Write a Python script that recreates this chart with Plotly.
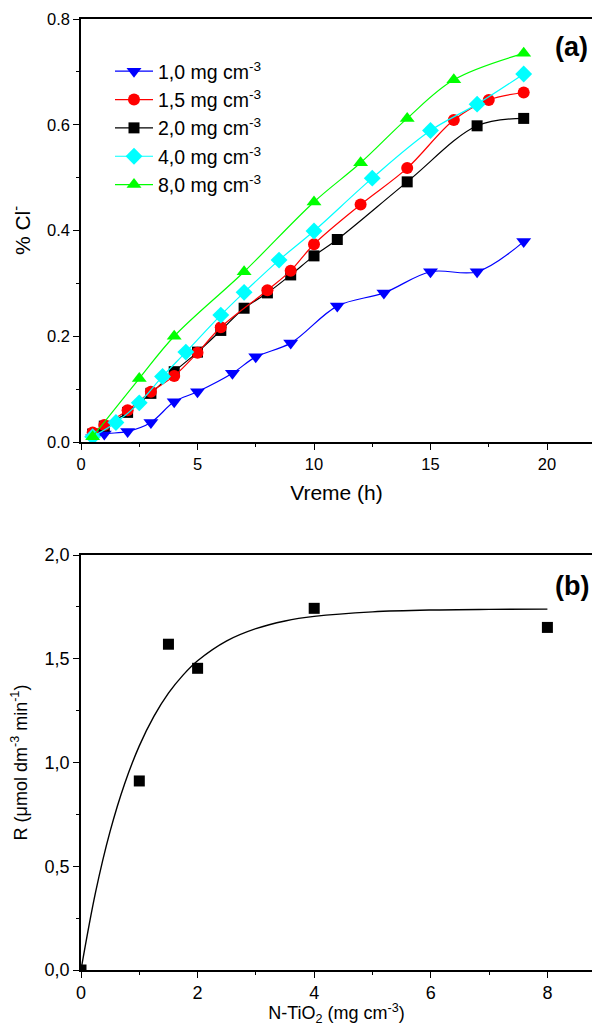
import plotly.graph_objects as go

# ---------------- Panel (a) data ----------------
t_10 = [0.5, 1, 2, 3, 4, 5, 6.5, 7.5, 9, 11, 13, 15, 17, 19]
v_10 = [0.008, 0.015, 0.020, 0.037, 0.076, 0.095, 0.130, 0.161, 0.187, 0.257, 0.282, 0.322, 0.322, 0.379]

t_15 = [0.5, 1, 2, 3, 4, 5, 6, 8, 9, 10, 12, 14, 16, 17.5, 19]
v_15 = [0.018, 0.032, 0.060, 0.095, 0.125, 0.169, 0.217, 0.287, 0.324, 0.374, 0.449, 0.518, 0.609, 0.647, 0.661]

t_20 = [0.5, 1, 2, 3, 4, 5, 6, 7, 8, 9, 10, 11, 14, 17, 19]
v_20 = [0.015, 0.030, 0.056, 0.092, 0.133, 0.170, 0.211, 0.253, 0.282, 0.316, 0.352, 0.383, 0.492, 0.598, 0.612]

t_40 = [0.5, 1.5, 2.5, 3.5, 4.5, 6, 7, 8.5, 10, 12.5, 15, 17, 19]
v_40 = [0.010, 0.037, 0.074, 0.124, 0.170, 0.240, 0.283, 0.344, 0.399, 0.499, 0.589, 0.639, 0.696]

t_80 = [0.5, 2.5, 4, 7, 10, 12, 14, 16, 19]
v_80 = [0.010, 0.120, 0.200, 0.322, 0.454, 0.528, 0.612, 0.685, 0.735]

names_a = ["1,0 mg cm<sup>-3</sup>", "1,5 mg cm<sup>-3</sup>", "2,0 mg cm<sup>-3</sup>",
           "4,0 mg cm<sup>-3</sup>", "8,0 mg cm<sup>-3</sup>"]

# ---------------- Panel (b) data ----------------
c_pts = [0, 1, 1.5, 2, 4, 8]
R_pts = [0.0, 0.911, 1.570, 1.454, 1.743, 1.651]

# fitted curve
c_fit = [0, 0.25, 0.5, 0.75, 1.0, 1.25, 1.5, 1.75, 2.0, 2.5, 3.0, 3.5, 4.0, 5.0, 6.0, 7.0, 8.0]
R_fit = [0, 0.375, 0.669, 0.899, 1.080, 1.222, 1.334, 1.421, 1.490, 1.586, 1.645, 1.682, 1.704, 1.726, 1.735, 1.738, 1.739]

yb_tickvals = [0, 0.5, 1.0, 1.5, 2.0]
yb_ticktext = ["0,0", "0,5", "1,0", "1,5", "2,0"]

# page body has an 8 px margin: figure is placed at (8, 8) in the window
OFF = 8
W, H = 600 - 2 * OFF, 1034 - 2 * OFF
FONT = "Arial, Liberation Sans, sans-serif"


def px(p):
    return (p - OFF) / W


def py(p):
    return 1 - (p - OFF) / H


fig = go.Figure()

series = [
    (t_10, v_10, names_a[0], "#0000FF", "triangle-down", 13, 1),
    (t_20, v_20, names_a[2], "#000000", "square", 11, 3),
    (t_15, v_15, names_a[1], "#FF0000", "circle", 12, 2),
    (t_40, v_40, names_a[3], "#00FFFF", "diamond", 13, 4),
    (t_80, v_80, names_a[4], "#00FF00", "triangle-up", 13, 5),
]
for tx, vy, nm, col, sym, sz, rank in series:
    fig.add_trace(go.Scatter(
        x=tx, y=vy, name=nm, mode="lines+markers",
        line=dict(color=col, width=1.2, shape="spline", smoothing=1),
        marker=dict(color=col, symbol=sym, size=sz, line=dict(width=0)),
        legendrank=rank, xaxis="x", yaxis="y"))

fig.add_trace(go.Scatter(
    x=c_fit, y=R_fit, mode="lines", showlegend=False,
    line=dict(color="black", width=1.4, shape="spline", smoothing=1),
    xaxis="x2", yaxis="y2"))
fig.add_trace(go.Scatter(
    x=c_pts, y=R_pts, mode="markers", showlegend=False,
    marker=dict(color="black", symbol="square", size=11, line=dict(width=0)),
    xaxis="x2", yaxis="y2"))


def ax_common(tfs):
    return dict(showline=True, linecolor="black", linewidth=1.5, mirror=True,
                ticks="outside", ticklen=6, tickwidth=1.3, tickcolor="black",
                showgrid=False, zeroline=False, automargin=False,
                tickfont=dict(family=FONT, size=tfs, color="black"))


right_px = OFF + W  # last visible figure pixel in window coords
xa = ax_common(16.5)
xa.update(domain=[px(81), 1], range=[0, (right_px - 81) / 23.3], tickvals=[0, 5, 10, 15, 20],
          minor=dict(dtick=2.5, ticklen=3, tickwidth=1.2, tickcolor="black", ticks="outside"),
          title=dict(text="Vreme (h)", font=dict(family=FONT, size=21, color="black"), standoff=14),
          anchor="y")
ya = ax_common(16.5)
ya.update(domain=[py(442), py(19)], range=[0, 0.8], tickvals=[0, 0.2, 0.4, 0.6, 0.8],
          tickformat=".1f", mirror=False,
          minor=dict(dtick=0.1, ticklen=3, tickwidth=1.2, tickcolor="black", ticks="outside"),
          title=dict(text="% Cl<sup>-</sup>", font=dict(family=FONT, size=21, color="black"), standoff=12),
          anchor="x")
xb = ax_common(18)
xb.update(domain=[px(81), 1], range=[0, (right_px - 81) / 58.3], tickvals=[0, 2, 4, 6, 8],
          minor=dict(dtick=1, ticklen=3, tickwidth=1.2, tickcolor="black", ticks="outside"),
          title=dict(text="N-TiO<sub>2</sub> (mg cm<sup>-3</sup>)", font=dict(family=FONT, size=18, color="black"), standoff=9),
          anchor="y2")
yb = ax_common(18)
yb.update(domain=[py(970), py(555)], range=[0, 2.0], tickvals=yb_tickvals, ticktext=yb_ticktext,
          mirror=False,
          minor=dict(dtick=0.25, ticklen=3, tickwidth=1.2, tickcolor="black", ticks="outside"),
          title=dict(text="R (\u03bcmol dm<sup>-3</sup> min<sup>-1</sup>)", font=dict(family=FONT, size=18, color="black"), standoff=14),
          anchor="x2")

fig.update_layout(
    width=W, height=H, margin=dict(l=0, r=0, t=0, b=0),
    paper_bgcolor="white", plot_bgcolor="white",
    xaxis=xa, yaxis=ya, xaxis2=xb, yaxis2=yb,
    font=dict(family=FONT, color="black"),
    legend=dict(x=px(110), y=py(52), xanchor="left", yanchor="top",
                bgcolor="rgba(0,0,0,0)", font=dict(family=FONT, size=19.5, color="black"),
                itemwidth=38, tracegroupgap=0),
    annotations=[
        dict(text="<b>(a)</b>", x=px(590), y=py(47), xref="paper", yref="paper",
             xanchor="right", yanchor="middle",
             showarrow=False, font=dict(family=FONT, size=27, color="black")),
        dict(text="<b>(b)</b>", x=px(591), y=py(586), xref="paper", yref="paper",
             xanchor="right", yanchor="middle",
             showarrow=False, font=dict(family=FONT, size=27, color="black")),
    ],
)

fig.write_html("out.html")
